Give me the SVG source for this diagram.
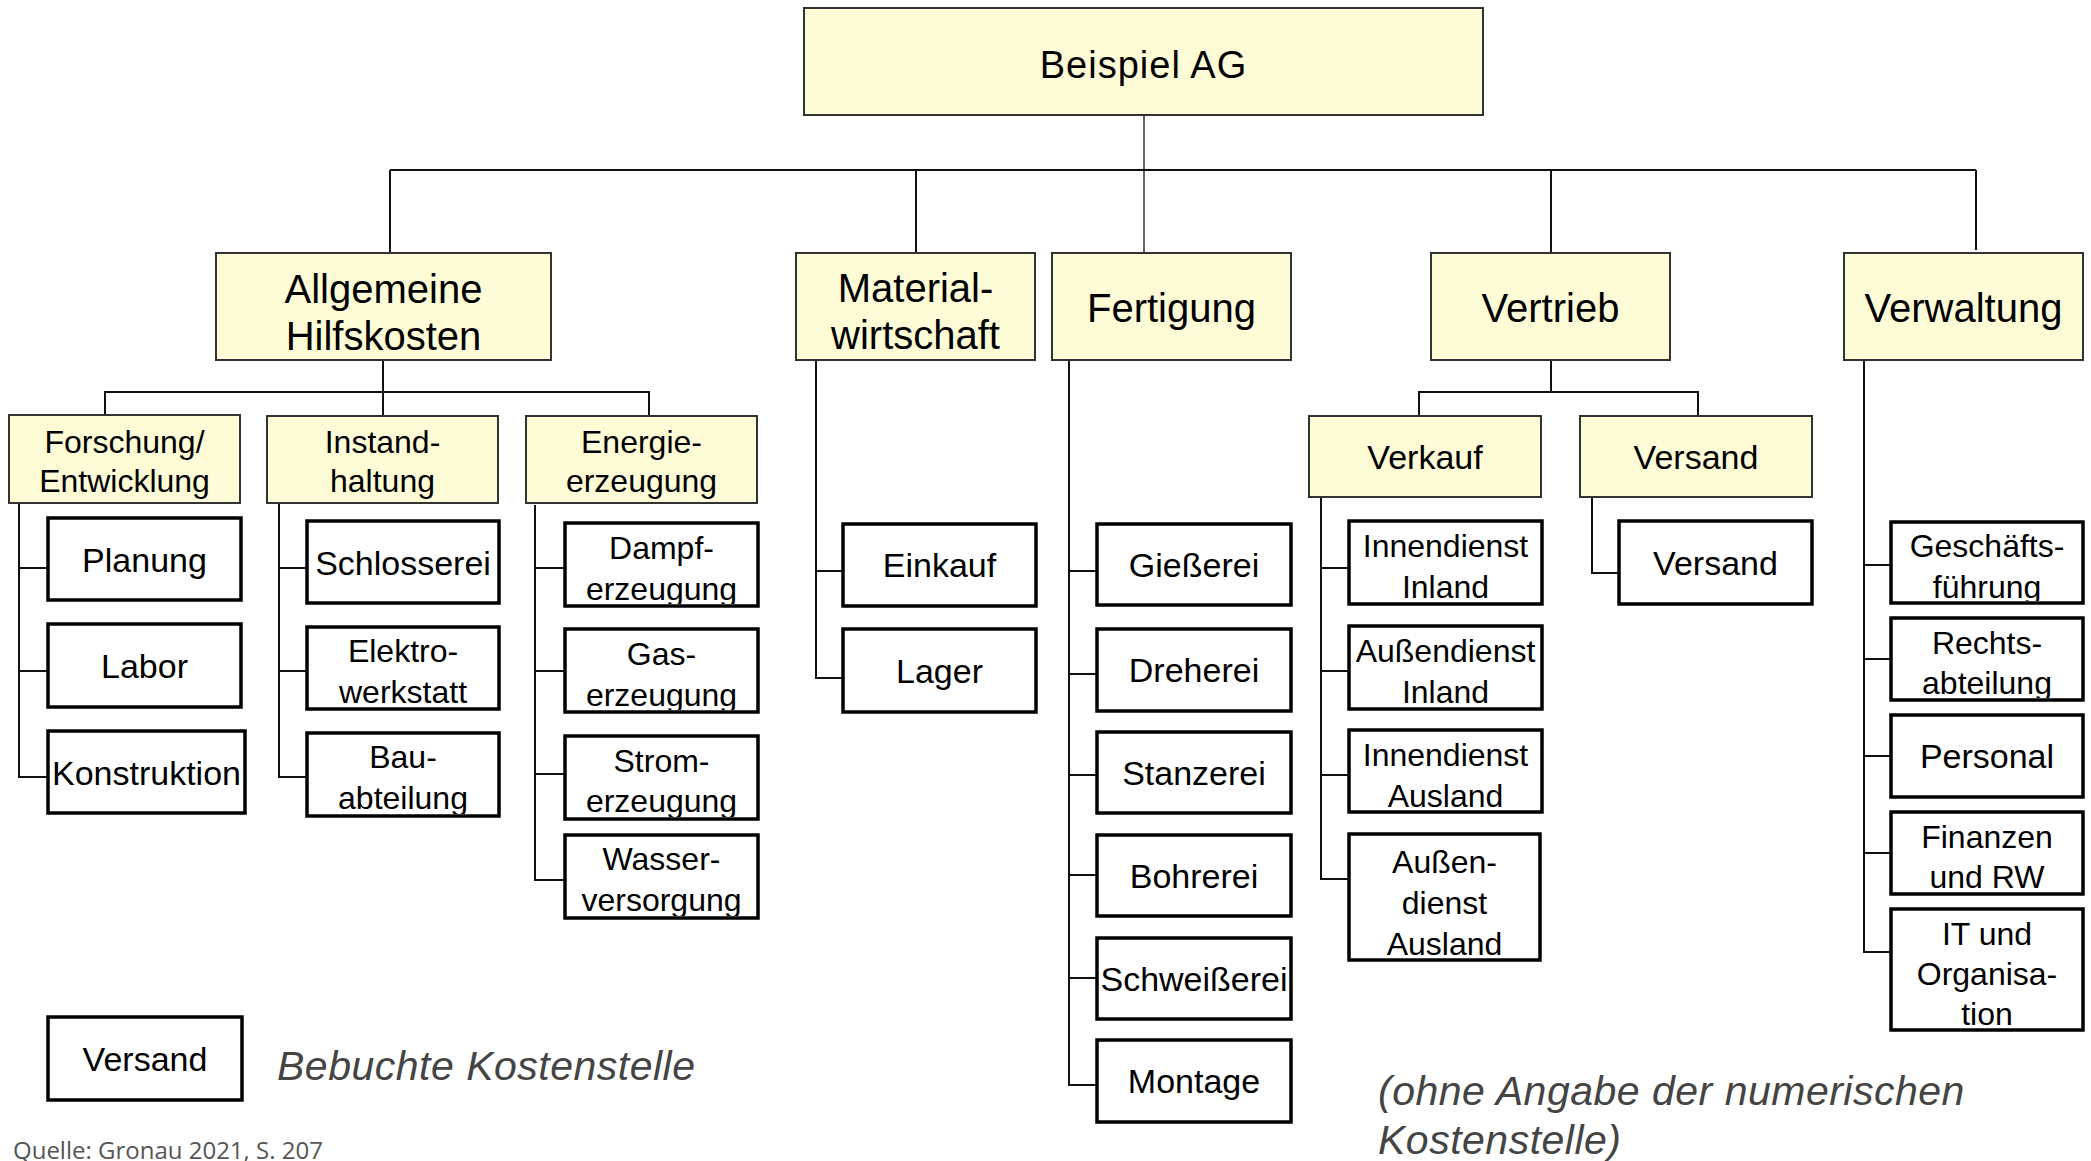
<svg xmlns="http://www.w3.org/2000/svg" width="2091" height="1161" viewBox="0 0 2091 1161">
<style>
.y{fill:#FEFCD6;stroke:#333;stroke-width:2}
.w{fill:#fff;stroke:#000;stroke-width:3.5}
.c{fill:none;stroke:#111;stroke-width:2}
text{font-family:"Liberation Sans",Arial,Helvetica,sans-serif;fill:#000;text-anchor:middle}
.t38{font-size:38px;letter-spacing:1px}
.t40{font-size:40px}
.t34{font-size:34px}
.t32{font-size:32px}
.note{font-size:41px;font-style:italic;fill:#444;text-anchor:start;letter-spacing:0.5px}
.src{font-family:"Open Sans","Noto Sans",sans-serif;font-size:24px;fill:#555;text-anchor:start}
</style>
<defs>
<clipPath id="cElek"><rect x="309" y="629" width="188" height="78"/></clipPath>
<clipPath id="cBau"><rect x="309" y="735" width="188" height="79"/></clipPath>
<clipPath id="cDampf"><rect x="567" y="525" width="189" height="79"/></clipPath>
<clipPath id="cGas"><rect x="567" y="631" width="189" height="79"/></clipPath>
<clipPath id="cStrom"><rect x="567" y="738" width="189" height="79"/></clipPath>
<clipPath id="cWasser"><rect x="567" y="837" width="189" height="79"/></clipPath>
<clipPath id="cGesch"><rect x="1893" y="524" width="188" height="77"/></clipPath>
<clipPath id="cRechts"><rect x="1893" y="620" width="188" height="78"/></clipPath>
</defs>

<g id="connectors">
<path class="c" d="M1144 115 V253" style="stroke-width:1.5;stroke:#333"/>
<path class="c" d="M390 170 H1976 M390 170 V253 M916 170 V253 M1551 170 V253 M1976 170 V250"/>
<path class="c" d="M383 360 V416 M105 415 V392 H649 V416"/>
<path class="c" d="M19 503 V777 H48 M19 568 H48 M19 671 H48"/>
<path class="c" d="M279 503 V777 H307 M279 568 H307 M279 671 H307"/>
<path class="c" d="M535 505 V880 H565 M535 568 H565 M535 671 H565 M535 774 H565"/>
<path class="c" d="M816 360 V678 H843 M816 571 H843"/>
<path class="c" d="M1069 360 V1085 H1097 M1069 571 H1097 M1069 674 H1097 M1069 775 H1097 M1069 875 H1097 M1069 978 H1097"/>
<path class="c" d="M1551 360 V392 M1419 416 V392 H1698 V416"/>
<path class="c" d="M1321 497 V879 H1349 M1321 568 H1349 M1321 671 H1349 M1321 775 H1349"/>
<path class="c" d="M1592 497 V573 H1619"/>
<path class="c" d="M1864 360 V952 H1891 M1864 565 H1891 M1864 659 H1891 M1864 756 H1891 M1864 853 H1891"/>
</g>

<g id="root"><rect class="y" x="804" y="8" width="679" height="107"/><text class="t38" x="1143.5" y="78">Beispiel AG</text></g>

<g id="allgemeine"><rect class="y" x="216" y="253" width="335" height="107"/><text class="t40" x="383.5" y="303">Allgemeine</text><text class="t40" x="383.5" y="350">Hilfskosten</text></g>
<g id="material"><rect class="y" x="796" y="253" width="239" height="107"/><text class="t40" x="915.5" y="302">Material-</text><text class="t40" x="915.5" y="349">wirtschaft</text></g>
<g id="fertigung"><rect class="y" x="1052" y="253" width="239" height="107"/><text class="t40" x="1171.5" y="322">Fertigung</text></g>
<g id="vertrieb"><rect class="y" x="1431" y="253" width="239" height="107"/><text class="t40" x="1550.5" y="322">Vertrieb</text></g>
<g id="verwaltung"><rect class="y" x="1844" y="253" width="239" height="107"/><text class="t40" x="1963.5" y="322">Verwaltung</text></g>

<g id="forschung"><rect class="y" x="9" y="415" width="231" height="88"/><text class="t32" x="124.5" y="453">Forschung/</text><text class="t32" x="124.5" y="492">Entwicklung</text></g>
<g id="instand"><rect class="y" x="267" y="416" width="231" height="87"/><text class="t32" x="382.5" y="453">Instand-</text><text class="t32" x="382.5" y="492">haltung</text></g>
<g id="energie"><rect class="y" x="526" y="416" width="231" height="87"/><text class="t32" x="641.5" y="453">Energie-</text><text class="t32" x="641.5" y="492">erzeugung</text></g>
<g id="verkauf"><rect class="y" x="1309" y="416" width="232" height="81"/><text class="t34" x="1425" y="469">Verkauf</text></g>
<g id="versand-gruppe"><rect class="y" x="1580" y="416" width="232" height="81"/><text class="t34" x="1696" y="469">Versand</text></g>

<g id="planung"><rect class="w" x="48" y="518" width="193" height="82"/><text class="t34" x="144.5" y="572">Planung</text></g>
<g id="labor"><rect class="w" x="48" y="624" width="193" height="83"/><text class="t34" x="144.5" y="678">Labor</text></g>
<g id="konstruktion"><rect class="w" x="48" y="731" width="197" height="82"/><text class="t34" x="146.5" y="785">Konstruktion</text></g>

<g id="schlosserei"><rect class="w" x="307" y="521" width="192" height="82"/><text class="t34" x="403" y="575">Schlosserei</text></g>
<g id="elektrowerkstatt"><rect class="w" x="307" y="627" width="192" height="82"/><g clip-path="url(#cElek)"><text class="t32" x="403" y="662">Elektro-</text><text class="t32" x="403" y="703">werkstatt</text></g></g>
<g id="bauabteilung"><rect class="w" x="307" y="733" width="192" height="83"/><g clip-path="url(#cBau)"><text class="t32" x="403" y="768">Bau-</text><text class="t32" x="403" y="809">abteilung</text></g></g>

<g id="dampf"><rect class="w" x="565" y="523" width="193" height="83"/><g clip-path="url(#cDampf)"><text class="t32" x="661.5" y="559">Dampf-</text><text class="t32" x="661.5" y="600">erzeugung</text></g></g>
<g id="gas"><rect class="w" x="565" y="629" width="193" height="83"/><g clip-path="url(#cGas)"><text class="t32" x="661.5" y="665">Gas-</text><text class="t32" x="661.5" y="706">erzeugung</text></g></g>
<g id="strom"><rect class="w" x="565" y="736" width="193" height="83"/><g clip-path="url(#cStrom)"><text class="t32" x="661.5" y="772">Strom-</text><text class="t32" x="661.5" y="812">erzeugung</text></g></g>
<g id="wasser"><rect class="w" x="565" y="835" width="193" height="83"/><g clip-path="url(#cWasser)"><text class="t32" x="661.5" y="870">Wasser-</text><text class="t32" x="661.5" y="911">versorgung</text></g></g>

<g id="einkauf"><rect class="w" x="843" y="524" width="193" height="82"/><text class="t34" x="939.5" y="577">Einkauf</text></g>
<g id="lager"><rect class="w" x="843" y="629" width="193" height="83"/><text class="t34" x="939.5" y="683">Lager</text></g>

<g id="giesserei"><rect class="w" x="1097" y="524" width="194" height="81"/><text class="t34" x="1194" y="577">Gießerei</text></g>
<g id="dreherei"><rect class="w" x="1097" y="629" width="194" height="82"/><text class="t34" x="1194" y="682">Dreherei</text></g>
<g id="stanzerei"><rect class="w" x="1097" y="732" width="194" height="81"/><text class="t34" x="1194" y="785">Stanzerei</text></g>
<g id="bohrerei"><rect class="w" x="1097" y="835" width="194" height="81"/><text class="t34" x="1194" y="888">Bohrerei</text></g>
<g id="schweisserei"><rect class="w" x="1097" y="938" width="194" height="81"/><text class="t34" x="1194" y="991">Schweißerei</text></g>
<g id="montage"><rect class="w" x="1097" y="1040" width="194" height="82"/><text class="t34" x="1194" y="1093">Montage</text></g>

<g id="innendienst-inland"><rect class="w" x="1349" y="521" width="193" height="83"/><text class="t32" x="1445.5" y="557">Innendienst</text><text class="t32" x="1445.5" y="598">Inland</text></g>
<g id="aussendienst-inland"><rect class="w" x="1349" y="626" width="193" height="83"/><text class="t32" x="1445.5" y="662">Außendienst</text><text class="t32" x="1445.5" y="703">Inland</text></g>
<g id="innendienst-ausland"><rect class="w" x="1349" y="730" width="193" height="82"/><text class="t32" x="1445.5" y="766">Innendienst</text><text class="t32" x="1445.5" y="807">Ausland</text></g>
<g id="aussendienst-ausland"><rect class="w" x="1349" y="834" width="191" height="126"/><text class="t32" x="1444.5" y="873">Außen-</text><text class="t32" x="1444.5" y="914">dienst</text><text class="t32" x="1444.5" y="955">Ausland</text></g>

<g id="versand"><rect class="w" x="1619" y="521" width="193" height="83"/><text class="t34" x="1715.5" y="575">Versand</text></g>

<g id="geschaeftsfuehrung"><rect class="w" x="1891" y="522" width="192" height="81"/><g clip-path="url(#cGesch)"><text class="t32" x="1987" y="557">Geschäfts-</text><text class="t32" x="1987" y="598">führung</text></g></g>
<g id="rechtsabteilung"><rect class="w" x="1891" y="618" width="192" height="82"/><g clip-path="url(#cRechts)"><text class="t32" x="1987" y="654">Rechts-</text><text class="t32" x="1987" y="694">abteilung</text></g></g>
<g id="personal"><rect class="w" x="1891" y="715" width="192" height="82"/><text class="t34" x="1987" y="768">Personal</text></g>
<g id="finanzen"><rect class="w" x="1891" y="812" width="192" height="82"/><text class="t32" x="1987" y="848">Finanzen</text><text class="t32" x="1987" y="888">und RW</text></g>
<g id="it"><rect class="w" x="1891" y="909" width="192" height="121"/><text class="t32" x="1987" y="945">IT und</text><text class="t32" x="1987" y="985">Organisa-</text><text class="t32" x="1987" y="1025">tion</text></g>

<g id="legende"><rect class="w" x="48" y="1017" width="194" height="83"/><text class="t34" x="145" y="1071">Versand</text><text class="note" x="277" y="1080">Bebuchte Kostenstelle</text></g>
<g id="hinweis"><text class="note" x="1378" y="1105">(ohne Angabe der numerischen</text><text class="note" x="1378" y="1154">Kostenstelle)</text></g>
<text class="src" x="13" y="1159">Quelle: Gronau 2021, S. 207</text>
</svg>
